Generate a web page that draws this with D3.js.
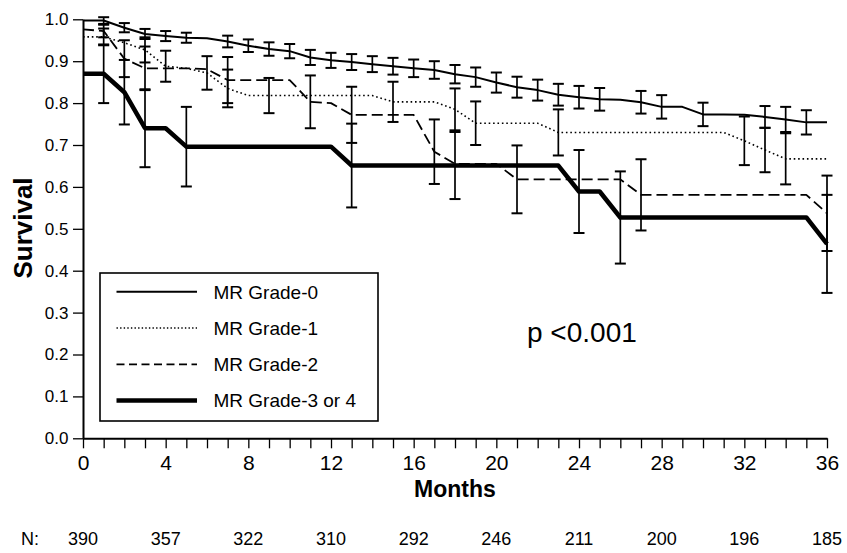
<!DOCTYPE html>
<html>
<head>
<meta charset="utf-8">
<script src="https://cdn.jsdelivr.net/npm/d3@7"></script>
<style>
  html, body { margin: 0; padding: 0; background: #fff; }
  svg { display: block; font-family: "Liberation Sans", Arial, Helvetica, sans-serif; }
</style>
</head>
<body>
<svg id="chart" width="847" height="553"></svg>
<script>
// ---------------- data ----------------
const months = [0,1,2,3,4,5,6,7,8,9,10,11,12,13,14,15,16,17,18,19,20,21,22,23,24,25,26,27,28,29,30,31,32,33,34,35,36];

const grade0 = [0.997,0.997,0.980,0.965,0.960,0.956,0.955,0.947,0.937,0.929,0.924,0.909,0.902,0.898,0.893,0.888,0.883,0.879,0.869,0.862,0.849,0.838,0.831,0.820,0.814,0.809,0.808,0.802,0.791,0.791,0.773,0.773,0.772,0.767,0.761,0.754,0.754];
const grade1 = [0.958,0.958,0.944,0.927,0.888,0.883,0.872,0.835,0.818,0.818,0.818,0.818,0.818,0.818,0.818,0.803,0.803,0.803,0.785,0.752,0.752,0.752,0.752,0.730,0.730,0.730,0.730,0.730,0.730,0.730,0.730,0.730,0.710,0.688,0.667,0.667,0.667];
const grade2 = [0.976,0.972,0.906,0.883,0.883,0.883,0.881,0.855,0.855,0.855,0.855,0.803,0.800,0.772,0.772,0.772,0.772,0.684,0.655,0.655,0.655,0.618,0.618,0.618,0.618,0.618,0.618,0.581,0.581,0.581,0.581,0.581,0.581,0.581,0.581,0.581,0.537];
const grade34 = [0.870,0.870,0.826,0.740,0.740,0.696,0.696,0.696,0.696,0.696,0.696,0.696,0.696,0.651,0.651,0.651,0.651,0.651,0.651,0.651,0.651,0.651,0.651,0.651,0.589,0.589,0.527,0.527,0.527,0.527,0.527,0.527,0.527,0.527,0.527,0.527,0.464];

// error bars: [month, half-width]
const err0 = [[1,0.008],[2,0.011],[3,0.012],[4,0.012],[5,0.012],[7,0.014],[8,0.015],[9,0.016],[10,0.017],[11,0.018],[12,0.018],[13,0.019],[14,0.019],[15,0.020],[16,0.021],[17,0.021],[18,0.022],[19,0.023],[20,0.024],[21,0.025],[22,0.025],[23,0.026],[24,0.027],[25,0.027],[27,0.027],[28,0.028],[30,0.028],[33,0.026],[34,0.030],[35,0.029]];
const err1 = [[1,0.020],[3,0.030],[4,0.037],[6,0.040],[7,0.045],[9,0.042],[15,0.048],[18,0.050],[19,0.052],[23,0.055],[32,0.058],[33,0.053],[34,0.061]];
const err2 = [[1,0.015],[2,0.044],[3,0.052],[7,0.055],[11,0.063],[13,0.067],[17,0.077],[21,0.081],[27,0.085],[36,0.090]];
const err34 = [[1,0.070],[2,0.077],[3,0.093],[5,0.095],[13,0.100],[18,0.080],[24,0.099],[26,0.110],[36,0.117]];

const seriesNames = ["MR Grade-0","MR Grade-1","MR Grade-2","MR Grade-3 or 4"];
const yTicks = [0,0.1,0.2,0.3,0.4,0.5,0.6,0.7,0.8,0.9,1.0];
const xTickLabels = [0,4,8,12,16,20,24,28,32,36];
const nMonths = [0,4,8,12,16,20,24,28,32,36];
const nAtRisk = [390,357,322,310,292,246,211,200,196,185];
const pText = "p <0.001";

// ---------------- drawing ----------------
const svg = d3.select("#chart");
const x = d3.scaleLinear().domain([0,36]).range([83,827]);
const y = d3.scaleLinear().domain([0,1]).range([438.3,19.3]);

const styles = [
  {w:2, dash:null, lw:2, ldash:null},
  {w:1.6, dash:"1.6 2.8", lw:1.4, ldash:"1.4 2.2"},
  {w:1.8, dash:"11 5", lw:1.8, ldash:"8 4.5"},
  {w:4.5, dash:null, lw:4.5, ldash:null}
];
const allSeries = [grade0, grade1, grade2, grade34];
const allErr = [err0, err1, err2, err34];

// axes
const yAxis = d3.axisLeft(y).tickValues(yTicks).tickFormat(d3.format(".1f")).tickSize(10).tickSizeOuter(0).tickPadding(4.5);
const gy = svg.append("g").attr("transform","translate(83,0)").call(yAxis);
gy.selectAll("text").attr("font-size",17).attr("fill","#000").attr("font-family","Liberation Sans, Arial, sans-serif");
gy.select(".domain").attr("stroke","#000").attr("stroke-width",2);
gy.selectAll(".tick line").attr("stroke","#000").attr("stroke-width",1.3);

const xAxis = d3.axisBottom(x).tickValues(months)
  .tickFormat(d => xTickLabels.includes(d) ? String(d) : "")
  .tickSize(10).tickSizeOuter(0).tickPadding(6.5);
const gx = svg.append("g").attr("transform","translate(0,438.3)").call(xAxis);
gx.selectAll("text").attr("font-size",21).attr("fill","#000").attr("font-family","Liberation Sans, Arial, sans-serif");
gx.select(".domain").attr("stroke","#000").attr("stroke-width",2);
gx.selectAll(".tick line").attr("stroke","#000").attr("stroke-width",1.3);

// error bars
const capW = 5.5;
allErr.forEach((errs, si) => {
  const vals = allSeries[si];
  const g = svg.append("g").attr("stroke","#000").attr("stroke-width",1.7).attr("fill","none");
  errs.forEach(([m, h]) => {
    const v = vals[months.indexOf(m)];
    const cx = x(m), y1 = y(v + h), y2 = y(v - h);
    g.append("line").attr("x1",cx).attr("x2",cx).attr("y1",y1).attr("y2",y2);
    g.append("line").attr("x1",cx-capW).attr("x2",cx+capW).attr("y1",y1).attr("y2",y1).attr("stroke-width",2);
    g.append("line").attr("x1",cx-capW).attr("x2",cx+capW).attr("y1",y2).attr("y2",y2).attr("stroke-width",2);
  });
});

// survival lines
const line = d3.line().x(d => x(d[0])).y(d => y(d[1])).curve(d3.curveLinear);
allSeries.forEach((vals, si) => {
  const pts = months.map((m,i) => [m, vals[i]]);
  svg.append("path").datum(pts).attr("d", line)
    .attr("fill","none").attr("stroke","#000")
    .attr("stroke-width", styles[si].w)
    .attr("stroke-dasharray", styles[si].dash)
    .attr("stroke-linejoin","round");
});

// legend
const lg = svg.append("g");
lg.append("rect").attr("x",100).attr("y",273).attr("width",278).attr("height",148)
  .attr("fill","#fff").attr("stroke","#000").attr("stroke-width",1.6);
seriesNames.forEach((name, i) => {
  const cy = 291.7 + i*36.3;
  lg.append("line").attr("x1",116.5).attr("x2",197).attr("y1",cy).attr("y2",cy)
    .attr("stroke","#000").attr("stroke-width",styles[i].lw).attr("stroke-dasharray",styles[i].ldash);
  lg.append("text").attr("x",213.5).attr("y",cy+6.8).attr("font-size",19).attr("fill","#000").text(name);
});

// p value
svg.append("text").attr("x",527).attr("y",342).attr("font-size",28).attr("fill","#000").text(pText);

// axis titles
svg.append("text").attr("x",455).attr("y",497).attr("text-anchor","middle")
  .attr("font-size",23).attr("font-weight","bold").attr("fill","#000").text("Months");
svg.append("text").attr("transform","translate(31.5,228) rotate(-90)").attr("text-anchor","middle")
  .attr("font-size",26).attr("font-weight","bold").attr("fill","#000").text("Survival");

// N at risk
svg.append("text").attr("x",21).attr("y",545).attr("font-size",18).attr("fill","#000").text("N:");
svg.append("g").selectAll("text").data(nMonths).join("text")
  .attr("x", d => x(d)).attr("y",545).attr("text-anchor","middle")
  .attr("font-size",18).attr("fill","#000").text((d,i) => nAtRisk[i]);
</script>
</body>
</html>
